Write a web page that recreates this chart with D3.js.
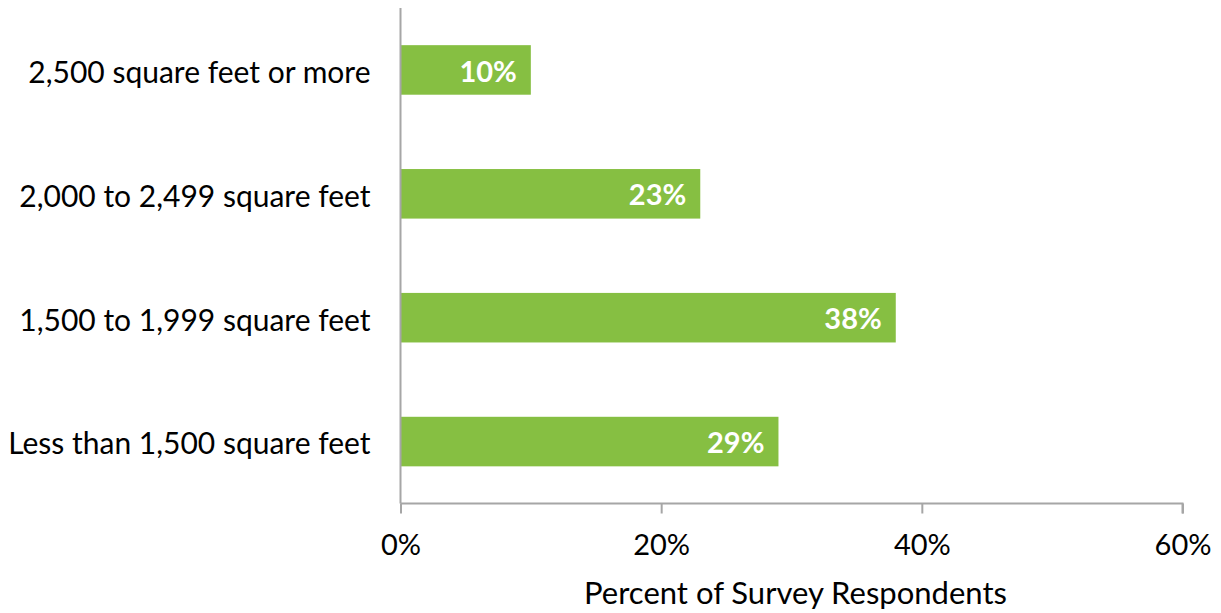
<!DOCTYPE html>
<html>
<head>
<meta charset="utf-8">
<script src="https://cdn.jsdelivr.net/npm/d3@7"></script>
<style>
  html, body { margin: 0; padding: 0; background: #fff; }
  svg { display: block; font-family: "Lato", "Open Sans", sans-serif; }
</style>
</head>
<body>
<svg id="chart" width="1221" height="613"></svg>
<script>
// Home size categories, top to bottom
const categories = [
  "2,500 square feet or more",
  "2,000 to 2,499 square feet",
  "1,500 to 1,999 square feet",
  "Less than 1,500 square feet"
];
// Share of survey respondents (%)
const values = [10, 23, 38, 29];
// X axis ticks (%)
const xTicks = [0, 20, 40, 60];
const xTitle = "Percent of Survey Respondents";

const svg = d3.select("#chart");
const margin = { top: 8, left: 400.5 };
const axisY = 503.5;

const x = d3.scaleLinear().domain([0, 60]).range([margin.left, 1182.5]);
const y = d3.scaleBand().domain(categories).range([margin.top, axisY]).paddingInner(0.6).paddingOuter(0.3);

const green = "#86bf42";
const axisColor = "#a6a6a6";

// bars
svg.append("g").selectAll("rect")
  .data(categories)
  .join("rect")
  .attr("x", x(0))
  .attr("y", d => y(d))
  .attr("width", (d, i) => x(values[i]) - x(0))
  .attr("height", y.bandwidth())
  .attr("fill", green);

// value labels inside bars
svg.append("g").selectAll("text")
  .data(categories)
  .join("text")
  .attr("x", (d, i) => x(values[i]) - 14)
  .attr("y", d => y(d) + y.bandwidth() / 2)
  .attr("dy", "0.4em")
  .attr("text-anchor", "end")
  .attr("fill", "#fff")
  .attr("font-weight", "bold")
  .attr("font-size", 29)
  .text((d, i) => values[i] + "%");

// x axis
const xAxis = d3.axisBottom(x).tickValues(xTicks).tickFormat(d => d + "%").tickSize(10).tickPadding(21);
const gx = svg.append("g").attr("transform", `translate(0,${axisY})`).call(xAxis);
gx.select(".domain").attr("stroke", axisColor).attr("stroke-width", 2).attr("d", `M${x(0)},0H${x(60)}V10`);
gx.selectAll(".tick line").attr("stroke", axisColor).attr("stroke-width", 2);
gx.selectAll(".tick text").attr("fill", "#000").attr("font-size", 29).attr("font-family", "Lato, sans-serif");

// y axis
const yAxis = d3.axisLeft(y).tickSize(0).tickPadding(30);
const gy = svg.append("g").attr("transform", `translate(${x(0)},0)`).call(yAxis);
gy.select(".domain").attr("stroke", axisColor).attr("stroke-width", 2).attr("d", `M0,${margin.top}V${axisY}`);
gy.selectAll(".tick text").attr("fill", "#000").attr("font-size", 30).attr("dy", "0.43em").attr("font-family", "Lato, sans-serif");

// axis title
svg.append("text")
  .attr("x", (x(0) + x(60)) / 2 + 4)
  .attr("y", 604)
  .attr("text-anchor", "middle")
  .attr("font-size", 31)
  .attr("fill", "#000")
  .text(xTitle);
</script>
</body>
</html>
